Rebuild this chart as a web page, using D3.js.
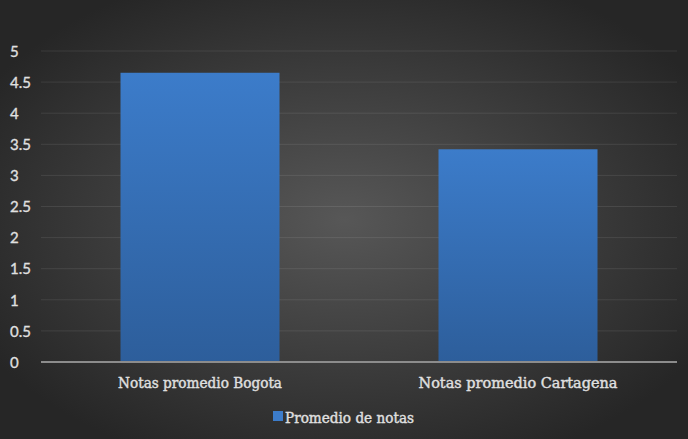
<!DOCTYPE html>
<html><head><meta charset="utf-8">
<script src="https://cdn.jsdelivr.net/npm/d3@7"></script>
<style>html,body{margin:0;padding:0;background:#262626;}svg{display:block;}</style>
</head><body>
<svg id="chart" width="688" height="439"></svg>
<script>
const categories = ["Notas promedio Bogota", "Notas promedio Cartagena"];
const values = [4.65, 3.42];
const seriesName = "Promedio de notas";
const yTicks = [0, 0.5, 1, 1.5, 2, 2.5, 3, 3.5, 4, 4.5, 5];

const svg = d3.select("#chart");
const W = 688, H = 439;
const defs = svg.append("defs");
const bg = defs.append("radialGradient").attr("id","bg").attr("cx","50%").attr("cy","50%").attr("r","60%");
bg.append("stop").attr("offset","0%").attr("stop-color","#575757");
bg.append("stop").attr("offset","100%").attr("stop-color","#262626");
const bar = defs.append("linearGradient").attr("id","bar").attr("x1",0).attr("y1",0).attr("x2",0).attr("y2",1);
bar.append("stop").attr("offset","0%").attr("stop-color","#3c7cca");
bar.append("stop").attr("offset","100%").attr("stop-color","#2d5e9b");

svg.append("rect").attr("width",W).attr("height",H).attr("fill","url(#bg)");

const x = d3.scaleBand().domain(categories).range([41,677]).paddingInner(0.5).paddingOuter(0.25);
const y = d3.scaleLinear().domain([0,5]).range([362,51]);

// gridlines
svg.append("g").selectAll("line").data(yTicks.filter(t=>t>0)).join("line")
  .attr("x1",41).attr("x2",677).attr("y1",d=>y(d)).attr("y2",d=>y(d))
  .attr("stroke","rgba(255,255,255,0.09)").attr("stroke-width",1);

// y axis labels
const yAxis = d3.axisLeft(y).tickValues(yTicks).tickSize(0).tickPadding(0).tickFormat(d=>String(d));
const gy = svg.append("g").attr("transform","translate(10,0)").call(yAxis);
gy.select(".domain").remove();
gy.selectAll("text").attr("text-anchor","start").attr("x",0).attr("dy","0.35em")
  .attr("fill","#e0e0e0").attr("stroke","#e0e0e0").attr("stroke-width",0.3)
  .style("font-family","Lato, 'Open Sans', sans-serif").style("font-size","15px");

// bars
svg.append("g").selectAll("rect").data(values).join("rect")
  .attr("x",(d,i)=>x(categories[i])).attr("width",x.bandwidth())
  .attr("y",d=>y(d)).attr("height",d=>y(0)-y(d)).attr("fill","url(#bar)");

// baseline
svg.append("line").attr("x1",41).attr("x2",677).attr("y1",y(0)).attr("y2",y(0))
  .attr("stroke","#8c8c8c").attr("stroke-width",2);

// x axis labels
const xAxis = d3.axisBottom(x).tickSize(0).tickPadding(0);
const gx = svg.append("g").attr("transform","translate(0,388)").call(xAxis);
gx.select(".domain").remove();
gx.selectAll("text").attr("y",0).attr("dy",0).attr("fill","#e0e0e0")
  .attr("stroke","#e0e0e0").attr("stroke-width",0.4)
  .style("font-family","'DejaVu Serif', serif").style("font-size","14.5px")
  .attr("textLength",function(d){return d===categories[0]?164:199;}).attr("lengthAdjust","spacingAndGlyphs");

// legend
const lg = svg.append("g");
lg.append("rect").attr("x",273).attr("y",411).attr("width",10).attr("height",10).attr("fill","#3c7cca");
lg.append("text").attr("x",285).attr("y",423).text(seriesName).attr("fill","#e0e0e0")
  .attr("stroke","#e0e0e0").attr("stroke-width",0.4)
  .style("font-family","'DejaVu Serif', serif").style("font-size","14.5px")
  .attr("textLength",129).attr("lengthAdjust","spacingAndGlyphs");
</script>
</body></html>
